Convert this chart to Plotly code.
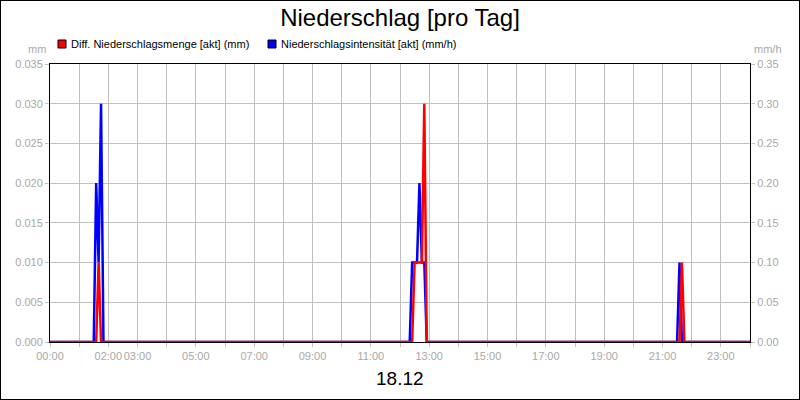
import plotly.graph_objects as go

# Daily precipitation, 18.12 (5 minute readings, only the non-zero spells plus zero anchors)
DAY = '2024-12-18'
NEXT_DAY = '2024-12-19'

amount_times = ['00:00', '01:35', '01:40', '01:45', '12:25', '12:30', '12:35', '12:40',
                '12:45', '12:50', '12:55', '21:35', '21:40', '21:45']
amount_mm = [0, 0, 0.01, 0, 0, 0.01, 0.01, 0.01, 0.01, 0.03, 0, 0, 0.01, 0]

intensity_times = ['00:00', '01:30', '01:35', '01:40', '01:45', '01:50', '12:20', '12:25',
                   '12:30', '12:35', '12:40', '12:45', '12:50', '12:55', '21:30', '21:35', '21:40']
intensity_mmh = [0, 0, 0.2, 0.1, 0.3, 0, 0, 0.1, 0.1, 0.1, 0.2, 0.1, 0.1, 0, 0, 0.1, 0]

hour_ticks = ['00:00', '01:00', '02:00', '03:00', '04:00', '05:00', '06:00', '07:00',
              '08:00', '09:00', '10:00', '11:00', '12:00', '13:00', '14:00', '15:00',
              '16:00', '17:00', '18:00', '19:00', '20:00', '21:00', '22:00', '23:00']
labelled_hours = ['00:00', '02:00', '03:00', '05:00', '07:00', '09:00', '11:00', '13:00',
                  '15:00', '17:00', '19:00', '21:00', '23:00']

AMOUNT_NAME = 'Diff. Niederschlagsmenge [akt] (mm)'
INTENSITY_NAME = 'Niederschlagsintensität [akt] (mm/h)'
FONT = 'Arial, Liberation Sans, sans-serif'
GREY_TXT = '#a8a8a8'
GREY_GRID = '#c0c0c0'

# plot box in pixels (used to place the labels in the margins)
L, R, T, B = 50, 50, 64, 58
PW, PH = 800 - L - R, 400 - T - B


def stamp(t):
    return f'{DAY} {t}'


def px_x(px):
    return (px - L) / PW


def px_y(py):
    return (400 - B - py) / PH


# close the day at 24:00 so the base line runs to the frame
x_amount = [stamp(t) for t in amount_times] + [f'{NEXT_DAY} 00:00']
y_amount = amount_mm + [0]
x_intens = [stamp(t) for t in intensity_times] + [f'{NEXT_DAY} 00:00']
y_intens = intensity_mmh + [0]

# intensity sits on the base axis (right side), amount on the overlay (left side)
# so that the red line is drawn over the blue one, as in the original
fig = go.Figure()
fig.add_trace(go.Scatter(x=x_intens, y=y_intens, mode='lines', name=INTENSITY_NAME,
                         line=dict(color='#0000ff', width=2.5), showlegend=False))
fig.add_trace(go.Scatter(x=x_amount, y=y_amount, mode='lines', yaxis='y2', name=AMOUNT_NAME,
                         line=dict(color='#ff0000', width=2.5), showlegend=False))

tickvals = [stamp(h) for h in hour_ticks] + [f'{NEXT_DAY} 00:00']
ticktext = [h if h in labelled_hours else '' for h in hour_ticks] + ['']

axis_common = dict(showline=True, linecolor='black', linewidth=1, ticks='outside',
                   ticklen=4, tickcolor=GREY_GRID, tickfont=dict(family=FONT, size=11, color=GREY_TXT),
                   zeroline=False, automargin=False)

fig.update_layout(
    width=800, height=400,
    margin=dict(l=L, r=R, t=T, b=B),
    paper_bgcolor='white', plot_bgcolor='white',
    font=dict(family=FONT, color='black'),
    title=dict(text='Niederschlag [pro Tag]', x=0.5, xanchor='center', y=0.955, yanchor='middle',
               font=dict(family=FONT, size=24, color='black')),
    showlegend=False,
    xaxis=dict(type='date', range=[stamp('00:00'), f'{NEXT_DAY} 00:00'],
               tickmode='array', tickvals=tickvals, ticktext=ticktext, tickangle=0,
               layer='below traces',
               showgrid=True, gridcolor=GREY_GRID, gridwidth=1, mirror=True, **axis_common),
    yaxis=dict(range=[0, 0.35], dtick=0.05, tick0=0, tickformat='.2f', side='right',
               showgrid=True, gridcolor=GREY_GRID, gridwidth=1, **axis_common),
    yaxis2=dict(range=[0, 0.035], dtick=0.005, tick0=0, tickformat='.3f', overlaying='y',
                side='left', showgrid=False, **axis_common),
)

# legend keys: small squares with the series name next to them
for name, col, key_x in [(AMOUNT_NAME, '#ff0000', 58), (INTENSITY_NAME, '#0000ff', 268)]:
    fig.add_shape(type='rect', xref='paper', yref='paper',
                  x0=px_x(key_x), x1=px_x(key_x + 8), y0=px_y(48), y1=px_y(40),
                  fillcolor=col, line=dict(color='black', width=1))
    fig.add_annotation(text=name, xref='paper', yref='paper', x=px_x(key_x + 11), y=px_y(44),
                       xanchor='left', yanchor='middle', showarrow=False,
                       font=dict(family=FONT, size=11, color='black'))

# unit labels and date caption
fig.add_annotation(text='mm', xref='paper', yref='paper', x=px_x(48), y=px_y(49), xanchor='right',
                   yanchor='middle', showarrow=False, font=dict(family=FONT, size=11, color=GREY_TXT))
fig.add_annotation(text='mm/h', xref='paper', yref='paper', x=px_x(752), y=px_y(49), xanchor='left',
                   yanchor='middle', showarrow=False, font=dict(family=FONT, size=11, color=GREY_TXT))
fig.add_annotation(text='18.12', xref='paper', yref='paper', x=0.5, y=px_y(378), xanchor='center',
                   yanchor='middle', showarrow=False, font=dict(family=FONT, size=19, color='black'))

# outer frame of the image
fig.add_shape(type='rect', xref='paper', yref='paper', x0=px_x(0), x1=px_x(800),
              y0=px_y(400), y1=px_y(0), line=dict(color='black', width=2))

# the page's default body margin would push the 800x400 figure off the window
fig.write_html('out.html', config={'displayModeBar': False},
               post_script="document.body.style.margin='0';")
